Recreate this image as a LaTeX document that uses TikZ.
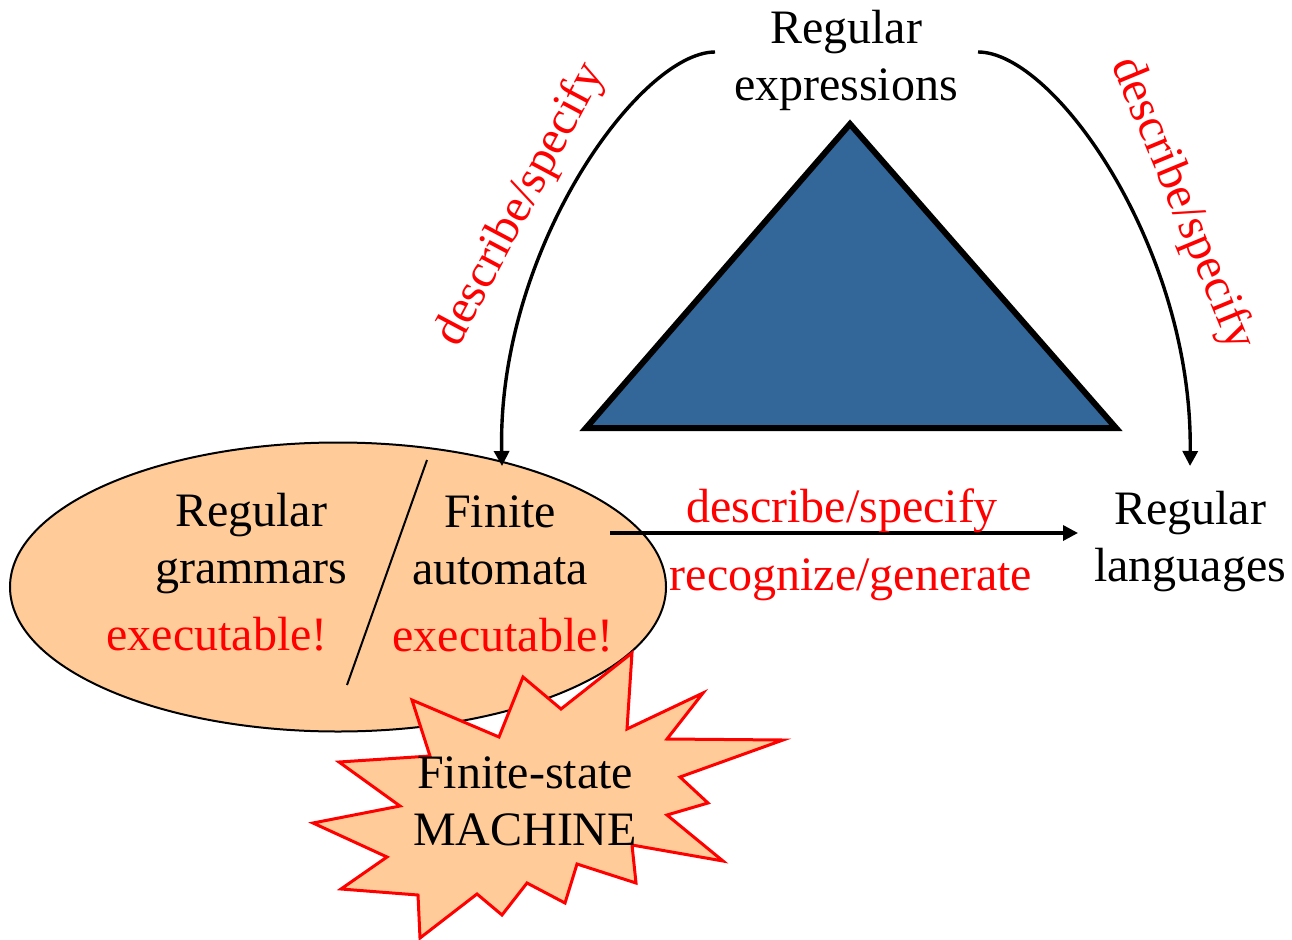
\documentclass[tikz,border=0pt]{standalone}
\usepackage{fontspec}
\setmainfont{LiberationSerif}[Extension=.ttf, UprightFont=*-Regular, BoldFont=*-Bold]
\usetikzlibrary{arrows.meta,shapes.geometric}
\definecolor{peach}{HTML}{FFCC99}
\definecolor{steel}{HTML}{336699}
\tikzset{
  big/.style={font=\fontsize{48}{57}\selectfont, align=center, inner sep=0pt},
  redtxt/.style={big, text=red},
  conn/.style={line width=3.4pt, -{Triangle[length=15pt,width=15pt]}},
}
\begin{document}
\begin{tikzpicture}[x=1pt,y=-1pt]
\useasboundingbox (0,0) rectangle (1292,939);

% grammar / automaton ellipse
\node[ellipse, draw=black, line width=2pt, fill=peach,
      minimum width=656pt, minimum height=289pt, inner sep=0pt] (ell) at (338,587) {};
\draw[line width=2pt] (ell.center) ++(89,-127) coordinate (s1) -- ++(-80,225) coordinate (s2);

\node[big] (rg) at (251,544) {Regular\\grammars};
\node[redtxt] (exl) at (217,634) {executable!};
\node[big] (fa) at (500,540) {Finite\\automata};
\node[redtxt] (exr) at (503,635) {executable!};

% starburst
\draw[red, line width=3pt, fill=peach, line join=miter]
  (632,653) -- (627,729) -- (703,693) -- (667,739) -- (783,740) -- (680,777)
  -- (708,803) -- (667,815) -- (723,861) -- (632,845) -- (636,883) -- (577,864)
  -- (565,903) -- (527,883) -- (502,915) -- (477,894) -- (420,938) -- (418,895)
  -- (341,889) -- (387,857) -- (313,823) -- (400,806) -- (339,762) -- (430,756)
  -- (412,700) -- (499,737) -- (523,677) -- (561,709) -- cycle;
\node[big] (fsm) at (525,801) {Finite-state\\MACHINE};

% triangle
\draw[line width=6pt, fill=steel, line join=miter] (850,124) -- (1116,428) -- (586,428) -- cycle;

\node[big] (re) at (846,60) {Regular\\expressions};
\node[big] (rl) at (1190,542) {Regular\\languages};

\coordinate (lstart) at (715,52);
\coordinate (rstart) at (978,52);
\coordinate (ltip) at (502,466);
\coordinate (rtip) at (1190,466);
\coordinate (hstart) at (610,533);
\coordinate (htip) at (1078,533);

\draw[conn] (lstart) .. controls (640,52) and (497,250) .. (ltip);
\draw[conn] (rstart) .. controls (1055,52) and (1193,250) .. (rtip);
\draw[conn] (hstart) -- (htip);

\node[redtxt, rotate=62] (ldesc) at (521,205) {describe/specify};
\node[redtxt, rotate=-67.5] (rdesc) at (1182,204) {describe/specify};
\node[redtxt] (hdesc) at (842,511) {describe/specify};
\node[redtxt] (hrec) at (851,580) {recognize/generate};
\end{tikzpicture}
\end{document}
